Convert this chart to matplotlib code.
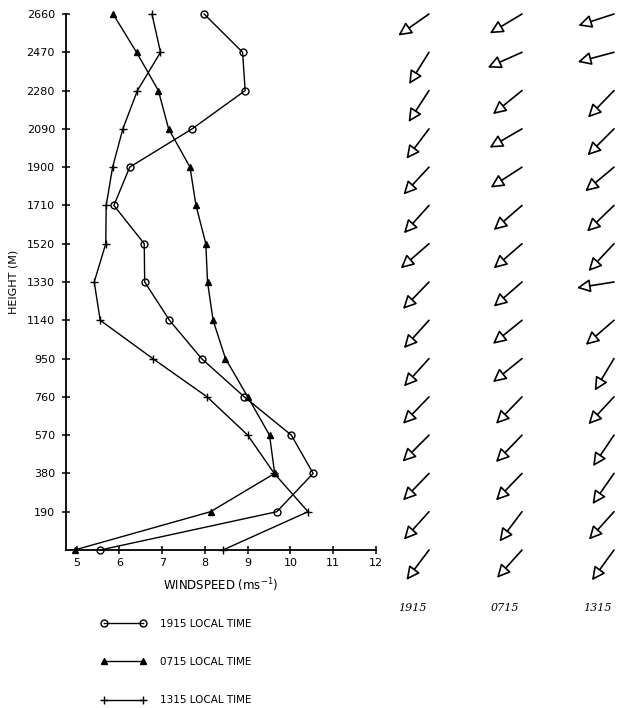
import numpy as np
import matplotlib.pyplot as plt

plt.rcParams["font.family"] = ["DejaVu Sans"]

# height levels (m)
heights = [0, 190, 380, 570, 760, 950, 1140, 1330, 1520, 1710, 1900, 2090, 2280, 2470, 2660]

# windspeed profiles (m/s), bottom to top
speed_1915 = [5.55, 9.68, 10.53, 10.02, 8.92, 7.92, 7.17, 6.59, 6.58, 5.87, 6.24, 7.70, 8.94, 8.88, 7.98]
speed_0715 = [4.95, 8.13, 9.63, 9.51, 9.00, 8.48, 8.19, 8.06, 8.02, 7.79, 7.65, 7.15, 6.91, 6.40, 5.85]
speed_1315 = [8.42, 10.41, 9.62, 9.00, 8.05, 6.78, 5.55, 5.41, 5.68, 5.69, 5.84, 6.08, 6.42, 6.96, 6.76]

# wind direction (degrees, direction the wind blows from), bottom to top
dir_1915 = [37, 42, 44, 45, 44, 42, 42, 44, 49, 42, 43, 37, 33, 32, 55]
dir_0715 = [42, 37, 44, 44, 44, 51, 51, 49, 49, 49, 57, 60, 51, 66, 59]
dir_1315 = [36, 42, 35, 34, 43, 31, 49, 81, 43, 46, 50, 45, 44, 75, 72]

time_labels = ["1915", "0715", "1315"]
xticks = [5, 6, 7, 8, 9, 10, 11, 12]

W, H = 619, 708
fig = plt.figure(figsize=(W / 100, H / 100), dpi=100)

ax = fig.add_axes([66 / W, (H - 550) / H, 310 / W, 536 / H])
line_kw = dict(color="black", linewidth=1.0)
ax.plot(speed_1915, heights, marker="o", markersize=5, markerfacecolor="none",
        markeredgewidth=1.0, label="1915 LOCAL TIME", clip_on=False, **line_kw)
ax.plot(speed_0715, heights, marker="^", markersize=4, markerfacecolor="black",
        label="0715 LOCAL TIME", clip_on=False, **line_kw)
ax.plot(speed_1315, heights, marker="+", markersize=6, markeredgewidth=1.0,
        label="1315 LOCAL TIME", clip_on=False, **line_kw)

ax.set_xlim(4.75, 12)
ax.set_ylim(0, 2660)
ax.set_xticks(xticks)
ax.set_yticks(heights[1:])
ax.spines["top"].set_visible(False)
ax.spines["right"].set_visible(False)
for s in ("left", "bottom"):
    ax.spines[s].set_linewidth(1.3)
ax.tick_params(direction="inout", length=6, width=1.1, labelsize=8, pad=3)
ax.tick_params(axis="y", pad=5)
ax.set_xlabel("WINDSPEED (ms$^{-1}$)", fontsize=8.5, labelpad=6)
ax.set_ylabel("HEIGHT (M)", fontsize=8, labelpad=6)

fig.legend(loc="upper left", bbox_to_anchor=(101 / W, (H - 619) / H),
           frameon=False, fontsize=7.5, numpoints=2, handlelength=4.3,
           handletextpad=1.4, labelspacing=2.7, borderpad=0, borderaxespad=0)

# wind direction arrows
ax2 = fig.add_axes([380 / W, (H - 550) / H, 239 / W, 536 / H])
ax2.set_xlim(380, 619)
ax2.set_ylim(0, 2660)
ax2.axis("off")

col_x = [429, 522, 614]
length = 27  # points
for cx, dirs, lab in zip(col_x, [dir_1915, dir_0715, dir_1315], time_labels):
    for h, d in zip(heights, dirs):
        r = np.deg2rad(d)
        dx = -length * np.sin(r)
        dy = -length * np.cos(r)
        ax2.annotate("", xy=(cx, h), xycoords="data",
                     xytext=(dx, dy), textcoords="offset points",
                     annotation_clip=False,
                     arrowprops=dict(arrowstyle="<|-,head_length=0.8,head_width=0.4",
                                     fc="white", ec="black", lw=1.2,
                                     shrinkA=0, shrinkB=0, mutation_scale=10))
    ax2.text(cx - 17, -0.108, lab, transform=ax2.get_xaxis_transform(),
             ha="center", va="center", fontsize=8, family="DejaVu Serif",
             style="italic")

fig.savefig("out.png", dpi=100)
